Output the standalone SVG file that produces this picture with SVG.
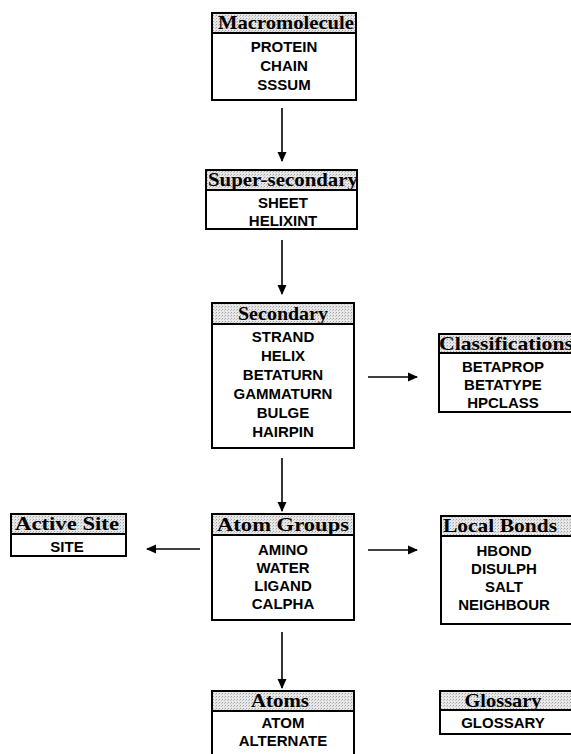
<svg xmlns="http://www.w3.org/2000/svg" width="571" height="754" viewBox="0 0 571 754">
<defs>
<pattern id="dith" width="3" height="3" patternUnits="userSpaceOnUse">
<rect width="3" height="3" fill="#e8e8e8"/>
<rect x="0" y="0" width="1" height="1" fill="#a0a0a0"/>
<rect x="2" y="1" width="1" height="1" fill="#c0c0c0"/>
</pattern>
<marker id="ah" markerWidth="10" markerHeight="10" refX="9" refY="5" orient="auto" markerUnits="userSpaceOnUse">
<path d="M0,0.5 L10,5 L0,9.5 Z" fill="#000"/>
</marker>
<style>
.box{fill:#fff;stroke:#000;stroke-width:2}
.hd{fill:url(#dith);stroke:#000;stroke-width:2}
.ht{font-family:"Liberation Serif","Times New Roman",serif;font-weight:bold;font-size:19px;fill:#000;text-anchor:middle}
.it{font-family:"Liberation Sans",Arial,sans-serif;font-weight:bold;font-size:15px;fill:#000;text-anchor:middle}
.cn{stroke:#000;stroke-width:1.6;fill:none;marker-end:url(#ah)}
</style>
</defs>
<rect width="571" height="754" fill="#fff"/>

<g id="macromolecule">
<rect class="box" x="212" y="13" width="144" height="87"/>
<rect class="hd" x="212" y="13" width="144" height="20"/>
<text class="ht" x="286" y="29" textLength="136" lengthAdjust="spacingAndGlyphs">Macromolecule</text>
<text class="it" x="284" y="52">PROTEIN</text>
<text class="it" x="284" y="71">CHAIN</text>
<text class="it" x="284" y="90">SSSUM</text>
</g>

<g id="supersecondary">
<rect class="box" x="206" y="170" width="151" height="59"/>
<rect class="hd" x="206" y="170" width="151" height="20"/>
<text class="ht" x="283" y="186" textLength="150" lengthAdjust="spacingAndGlyphs">Super-secondary</text>
<text class="it" x="283" y="208">SHEET</text>
<text class="it" x="283" y="226">HELIXINT</text>
</g>

<g id="secondary">
<rect class="box" x="212" y="303" width="142" height="145"/>
<rect class="hd" x="212" y="303" width="142" height="21"/>
<text class="ht" x="283" y="320" textLength="90" lengthAdjust="spacingAndGlyphs">Secondary</text>
<text class="it" x="283" y="342">STRAND</text>
<text class="it" x="283" y="361">HELIX</text>
<text class="it" x="283" y="380">BETATURN</text>
<text class="it" x="283" y="399">GAMMATURN</text>
<text class="it" x="283" y="418">BULGE</text>
<text class="it" x="283" y="437">HAIRPIN</text>
</g>

<g id="classifications">
<rect class="box" x="439" y="334" width="140" height="78"/>
<rect class="hd" x="439" y="334" width="140" height="19"/>
<text class="ht" x="506" y="350" textLength="134" lengthAdjust="spacingAndGlyphs">Classifications</text>
<text class="it" x="503" y="372">BETAPROP</text>
<text class="it" x="503" y="390">BETATYPE</text>
<text class="it" x="503" y="408">HPCLASS</text>
</g>

<g id="activesite">
<rect class="box" x="11" y="514" width="115" height="42"/>
<rect class="hd" x="11" y="514" width="115" height="20"/>
<text class="ht" x="67" y="530" textLength="104" lengthAdjust="spacingAndGlyphs">Active Site</text>
<text class="it" x="67" y="552">SITE</text>
</g>

<g id="atomgroups">
<rect class="box" x="212" y="514" width="142" height="106"/>
<rect class="hd" x="212" y="514" width="142" height="21"/>
<text class="ht" x="283" y="531" textLength="132" lengthAdjust="spacingAndGlyphs">Atom Groups</text>
<text class="it" x="283" y="555">AMINO</text>
<text class="it" x="283" y="573">WATER</text>
<text class="it" x="283" y="591">LIGAND</text>
<text class="it" x="283" y="609">CALPHA</text>
</g>

<g id="localbonds">
<rect class="box" x="441" y="516" width="138" height="108"/>
<rect class="hd" x="441" y="516" width="138" height="20"/>
<text class="ht" x="500" y="532" textLength="114" lengthAdjust="spacingAndGlyphs">Local Bonds</text>
<text class="it" x="504" y="556">HBOND</text>
<text class="it" x="504" y="574">DISULPH</text>
<text class="it" x="504" y="592">SALT</text>
<text class="it" x="504" y="610">NEIGHBOUR</text>
</g>

<g id="atoms">
<rect class="box" x="212" y="691" width="142" height="70"/>
<rect class="hd" x="212" y="691" width="142" height="20"/>
<text class="ht" x="280" y="707" textLength="58" lengthAdjust="spacingAndGlyphs">Atoms</text>
<text class="it" x="283" y="728">ATOM</text>
<text class="it" x="283" y="746">ALTERNATE</text>
</g>

<g id="glossary">
<rect class="box" x="440" y="691" width="138" height="43"/>
<rect class="hd" x="440" y="691" width="138" height="19"/>
<text class="ht" x="503" y="707" textLength="77" lengthAdjust="spacingAndGlyphs">Glossary</text>
<text class="it" x="503" y="728">GLOSSARY</text>
</g>

<g id="connectors">
<line class="cn" x1="282" y1="108" x2="282" y2="161"/>
<line class="cn" x1="282" y1="240" x2="282" y2="294"/>
<line class="cn" x1="368" y1="377" x2="417" y2="377"/>
<line class="cn" x1="282" y1="458" x2="282" y2="511"/>
<line class="cn" x1="200" y1="549" x2="147" y2="549"/>
<line class="cn" x1="368" y1="550" x2="417" y2="550"/>
<line class="cn" x1="282" y1="632" x2="282" y2="688"/>
</g>
</svg>
